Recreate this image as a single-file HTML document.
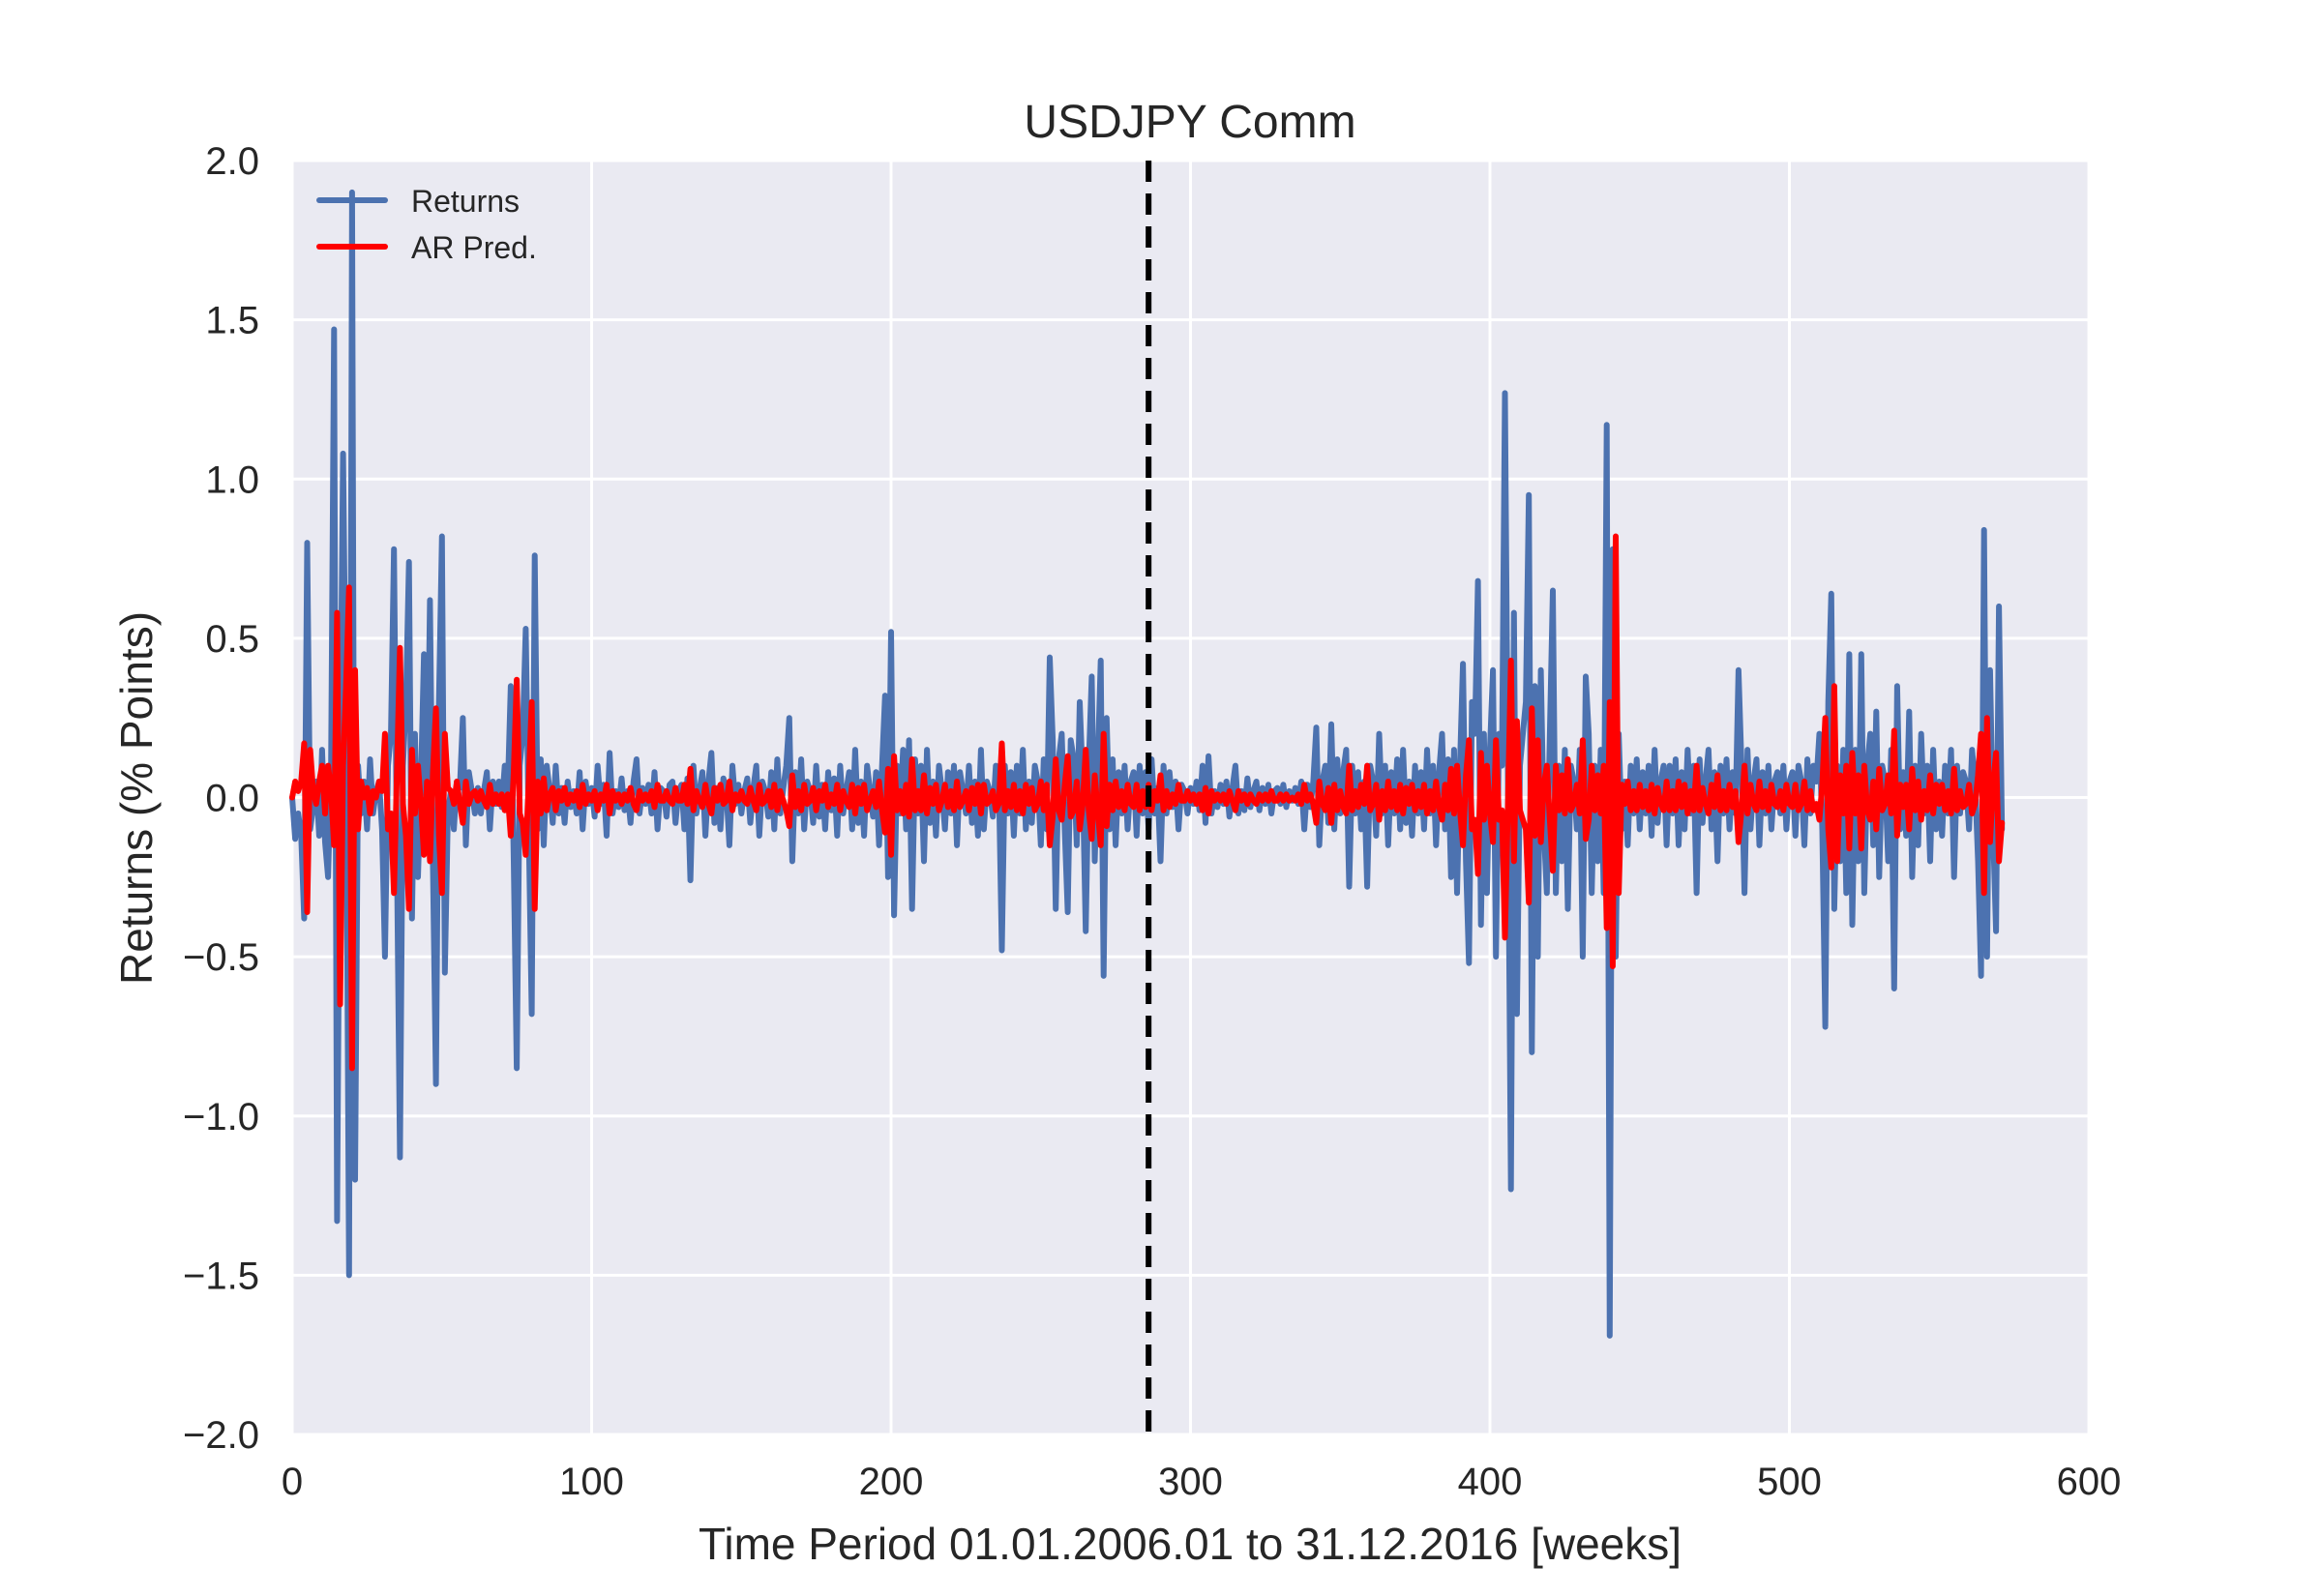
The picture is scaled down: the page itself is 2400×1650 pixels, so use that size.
<!DOCTYPE html>
<html><head><meta charset="utf-8"><style>
html,body{margin:0;padding:0;background:#fff;}
svg{display:block;font-family:"Liberation Sans",Arial,sans-serif;}
</style></head><body>
<svg id="chart" width="2400" height="1650" viewBox="0 0 2400 1650">
<rect x="0" y="0" width="2400" height="1650" fill="#fff"/>
<rect x="302" y="166" width="1857" height="1317" fill="#EAEAF2"/>
<g id="grid"></g>
<g id="series"></g>
<g id="ticks"></g>
<text x="1230" y="142" text-anchor="middle" font-size="48" fill="#262626">USDJPY Comm</text>
<text x="1230" y="1612" text-anchor="middle" font-size="46" fill="#262626">Time Period 01.01.2006.01 to 31.12.2016 [weeks]</text>
<text transform="translate(157,825) rotate(-90)" text-anchor="middle" font-size="46" fill="#262626">Returns (% Points)</text>
<g>
<line x1="330" y1="207" x2="398" y2="207" stroke="#4C72B0" stroke-width="6" stroke-linecap="round"/>
<text x="425" y="219" font-size="32" fill="#262626">Returns</text>
<line x1="330" y1="255" x2="398" y2="255" stroke="#FF0000" stroke-width="6" stroke-linecap="round"/>
<text x="425" y="267" font-size="32" fill="#262626">AR Pred.</text>
</g>
</svg>
<script>
const xTicks = [0,100,200,300,400,500,600];
const yTicks = [-2.0,-1.5,-1.0,-0.5,0.0,0.5,1.0,1.5,2.0];
const splitWeek = 286;
const returnsValues = [
0,-.13,-.05,-.12,-.38,.8,-.1,-.03,.05,-.12,.15,-.14,-.25,.1,1.47,-1.33,.1,1.08,.2,-1.5,
1.9,-1.2,.1,-.05,.05,-.1,.12,-.05,.02,.05,-.1,-.5,.1,.2,.78,-.2,-1.13,.1,.3,.74,
-.38,.2,-.25,.05,.45,-.1,.62,-.22,-.9,.3,.82,-.55,-.05,.02,-.1,.05,.03,.25,-.15,.08,
.02,-.05,.03,-.05,.02,.08,-.1,.05,-.02,.05,-.03,.1,.02,.35,-.2,-.85,.1,.2,.53,-.1,
-.68,.76,-.1,.12,-.15,.1,.02,-.08,.1,-.05,.03,-.08,.05,-.03,.02,-.05,.08,-.1,.05,-.02,
.03,-.06,.1,-.02,.04,-.12,.14,-.05,.02,-.03,.06,-.04,.02,-.08,.05,.12,-.05,.03,-.02,.04,
-.05,.08,-.1,.03,.02,-.06,.04,.05,-.08,.02,.04,-.1,.06,-.26,.1,-.05,.02,.08,-.12,.05,
.14,-.08,.03,-.1,.06,.02,-.15,.1,-.02,.04,-.05,.02,.06,-.08,.03,.1,-.12,.05,.02,-.06,
.08,-.1,.12,-.05,.03,.1,.25,-.2,.08,-.05,.12,-.1,.05,.02,-.08,.1,-.06,.04,-.1,.08,
-.04,.06,-.12,.1,-.05,.02,.08,-.1,.15,-.08,.05,-.12,.1,.02,-.06,.08,-.15,.1,.32,-.25,
.52,-.37,.1,-.05,.15,-.1,.18,-.35,.12,-.05,.1,-.2,.15,-.08,.05,-.12,.1,.02,-.1,.08,
-.05,.1,-.15,.08,.02,-.05,.1,-.08,.05,-.12,
.15,-.1,.05,.02,-.06,.1,.05,-.48,.1,-.05,
.08,-.12,.1,-.05,.15,-.1,.05,-.08,.1,.05,-.15,.12,-.1,.44,.18,-.35,.12,.2,-.1,-.36,
.18,.12,-.15,.3,.05,-.42,.1,.38,-.2,.1,.43,-.56,.25,-.1,.12,-.15,.08,-.05,.1,-.1,
.05,.08,-.12,.1,-.05,.08,-.1,.12,-.05,.03,-.2,.1,-.05,.08,-.03,.05,-.1,.04,.02,-.05,
.03,-.02,.05,-.04,.1,-.08,.13,-.05,.02,-.03,.04,-.02,.05,-.06,.03,.1,-.05,.02,-.04,.06,
-.03,.02,.05,-.04,.03,-.02,.04,-.05,.02,.03,-.02,.04,-.03,.02,-.01,.03,-.02,.05,-.1,.04,
-.03,.05,.22,-.15,.05,.1,-.08,.23,-.1,.12,-.05,.08,.15,-.28,.1,-.05,.08,-.1,.05,-.28,
.1,.05,-.12,.2,-.05,.1,-.15,.08,-.05,.12,-.1,.15,-.08,.05,-.12,.1,-.05,.08,-.1,.15,
-.05,.1,-.15,.08,.2,-.1,.12,-.25,.15,-.3,
.1,.42,-.2,-.52,.3,.2,.68,-.4,.2,-.3,
.15,.4,-.5,.2,.1,1.27,.05,-1.23,.58,-.68,
.1,.2,.3,.95,-.8,.35,-.5,.4,-.1,-.3,
.2,.65,-.3,.1,-.2,.15,-.35,.1,.05,-.1,.15,-.5,.38,.2,-.3,.1,-.2,.15,-.3,1.17,
-1.69,.78,-.5,.2,-.1,.05,-.15,.1,-.05,.12,-.1,.08,-.05,.1,-.12,.15,-.08,.05,.1,-.15,
.1,-.05,.12,-.15,.08,-.1,.15,-.05,.1,-.3,.12,-.08,.05,.15,-.1,.08,-.2,.1,-.05,.12,
-.1,.08,-.05,.4,.1,-.3,.15,-.1,.05,.12,-.15,.08,-.05,.1,-.1,.05,.08,-.05,.1,-.1,
.05,.08,-.12,.1,.05,-.15,.12,-.05,.1,.05,.2,-.1,-.72,.3,.64,-.35,.1,-.2,.15,-.3,
.45,-.4,.15,-.2,.45,-.3,.1,.2,-.15,.27,-.25,.1,.05,-.2,.15,-.6,.35,-.1,.08,-.12,
.27,-.25,.1,-.15,.2,-.05,.1,-.2,.15,-.1,.05,-.12,.1,-.05,.15,-.25,.1,-.05,.08,.05,
-.1,.15,.05,-.2,-.56,.84,-.5,.4,-.1,-.42,.6,-.1
];
const arPredValues = [
0,.05,.02,.05,.17,-.36,.15,.02,-.02,.05,.1,-.05,.1,.02,-.15,.58,-.65,.1,.35,.66,
-.85,.4,-.1,.05,0,.03,-.05,.02,0,.05,.02,.2,-.1,-.05,-.3,.08,.47,-.02,-.12,-.35,
.15,-.05,.1,-.02,-.18,.05,-.2,.08,.28,-.12,-.3,.2,.03,.02,-.02,.05,-.02,-.08,.05,-.02,
.01,.02,-.01,.02,-.01,-.03,.04,-.02,.01,-.02,.01,-.04,.01,-.12,.08,.37,-.05,-.08,-.18,.05,
.3,-.35,.05,-.05,.06,-.04,.01,.03,-.04,.02,-.01,.03,-.02,.01,-.01,.02,-.03,.04,-.02,.01,
-.01,.02,-.04,.01,-.01,.04,-.05,.02,-.01,.01,-.02,.01,-.01,.03,-.02,-.04,.02,-.01,.01,-.01,
.02,-.03,.04,-.01,-.01,.02,-.01,-.02,.03,-.01,-.01,.04,-.02,.09,-.04,.02,-.01,-.03,.04,-.02,
-.05,.03,-.01,.04,-.02,-.01,.05,-.04,.01,-.01,.02,-.01,-.02,.03,-.01,-.04,.04,-.02,-.01,.02,
-.03,.04,-.04,.02,-.01,-.04,-.09,.07,-.03,.02,-.04,.04,-.02,-.01,.03,-.04,.02,-.01,.04,-.03,
.01,-.02,.04,-.04,.02,-.01,-.03,.04,-.05,.03,-.02,.04,-.04,-.01,.02,-.03,.05,-.04,-.11,.09,
-.18,.13,-.04,.02,-.05,.04,-.06,.12,-.04,.02,-.04,.07,-.05,.03,-.02,.04,-.04,-.01,.04,-.03,
.02,-.04,.05,-.03,-.01,.02,-.04,.03,-.02,.04,-.05,.04,-.02,-.01,.02,-.04,-.02,.17,-.04,.02,
-.03,.04,-.04,.02,-.05,.04,-.02,.03,-.04,-.02,.05,-.04,.04,-.15,-.06,.12,-.04,-.07,.04,.13,
-.06,-.04,.05,-.1,-.02,.15,-.04,-.13,.07,-.04,-.15,.2,-.09,.04,-.04,.05,-.03,.02,-.04,.04,
-.02,-.03,.04,-.04,.02,-.03,.04,-.04,.02,-.01,.07,-.04,.02,-.03,.01,-.02,.04,-.01,-.01,.02,
-.01,.01,-.02,.01,-.04,.03,-.05,.02,-.01,.01,-.01,.01,-.02,.02,-.01,-.04,.02,-.01,.01,-.02,
.01,-.01,-.02,.01,-.01,.01,-.01,.02,-.01,-.01,.01,-.01,.01,-.01,0,-.01,.01,-.02,.04,-.01,
.01,-.02,-.08,.05,-.02,-.04,.03,-.08,.04,-.04,.02,-.03,-.05,.1,-.04,.02,-.03,.04,-.02,.1,
-.04,-.02,.04,-.07,.02,-.04,.05,-.03,.02,-.04,.04,-.05,.03,-.02,.04,-.04,.02,-.03,.04,-.05,
.02,-.04,.05,-.03,-.07,.04,-.04,.09,-.05,.1,
-.04,-.15,.07,.18,-.1,-.07,-.24,.14,-.07,.1,
-.05,-.14,.18,-.07,-.04,-.44,-.02,.43,-.2,.24,
-.04,-.07,-.1,-.33,.28,-.12,.18,-.14,.04,.1,
-.07,-.23,.1,-.04,.07,-.05,.12,-.04,-.02,.04,-.05,.18,-.13,-.07,.1,-.04,.07,-.05,.1,-.41,
.3,-.53,.82,-.3,.04,-.02,.05,-.04,.02,-.04,.04,-.03,.02,-.04,.04,-.05,.03,-.02,-.04,.05,
-.04,.02,-.04,.05,-.03,.04,-.05,.02,-.04,.1,-.04,.03,-.02,-.05,.04,-.03,.07,-.04,.02,-.04,
.04,-.03,.02,-.14,-.04,.1,-.05,.04,-.02,-.04,.05,-.03,.02,-.04,.04,-.02,-.03,.02,-.04,.04,
-.02,-.03,.04,-.04,-.02,.05,-.04,.02,-.04,-.02,-.07,.04,.25,-.1,-.22,.35,-.2,.07,-.05,.1,
-.16,.14,-.05,.07,-.16,.1,-.04,-.07,.05,-.1,.09,-.04,-.02,.07,-.05,.21,-.12,.04,-.03,.04,
-.1,.09,-.04,.05,-.07,.02,-.04,.07,-.05,.04,-.02,.04,-.04,.02,-.05,.09,-.04,.02,-.03,-.02,
.04,-.05,-.02,.07,.2,-.3,.25,-.14,.04,.14,-.2,-.08
];

const NS = "http://www.w3.org/2000/svg";
const L = 302, R = 2159, T = 166, B = 1483;
const xMin = 0, xMax = 600, yMin = -2, yMax = 2;
function xs(v){ return L + (v - xMin) / (xMax - xMin) * (R - L); }
function ys(v){ return B - (v - yMin) / (yMax - yMin) * (B - T); }
function mk(tag, attrs){ const e = document.createElementNS(NS, tag); for (const k in attrs) e.setAttribute(k, attrs[k]); return e; }

const grid = document.getElementById('grid');
const ticks = document.getElementById('ticks');
const series = document.getElementById('series');

xTicks.forEach(t => {
  const ln = mk('line', {x1: xs(t), x2: xs(t), y1: T, y2: B, stroke: '#fff', 'stroke-width': 3});
  
  
  grid.appendChild(ln);
  const tx = mk('text', {x: xs(t), y: 1545, 'text-anchor': 'middle', 'font-size': 40, fill: '#262626'});
  tx.textContent = String(t);
  
  
  ticks.appendChild(tx);
});
yTicks.forEach(t => {
  const ln = mk('line', {x1: L, x2: R, y1: ys(t), y2: ys(t), stroke: '#fff', 'stroke-width': 3});
  
  
  grid.appendChild(ln);
  const tx = mk('text', {x: 268, y: ys(t) + 14, 'text-anchor': 'end', 'font-size': 40, fill: '#262626'});
  tx.textContent = (t < 0 ? '\u2212' : '') + Math.abs(t).toFixed(1);
  
  
  ticks.appendChild(tx);
});

function pathFor(vals){ return vals.map((v,i) => (i ? 'L' : 'M') + xs(i).toFixed(1) + ' ' + ys(v).toFixed(1)).join(' '); }

const retPath = mk('path', {d: pathFor(returnsValues), fill: 'none', stroke: '#4C72B0', 'stroke-width': 6, 'stroke-linejoin': 'round', 'stroke-linecap': 'round'});


series.appendChild(retPath);

const arPath = mk('path', {d: pathFor(arPredValues), fill: 'none', stroke: '#FF0000', 'stroke-width': 6, 'stroke-linejoin': 'round', 'stroke-linecap': 'round'});


series.appendChild(arPath);

const split = mk('line', {x1: xs(splitWeek), x2: xs(splitWeek), y1: T, y2: B, stroke: '#000', 'stroke-width': 6, 'stroke-dasharray': '22 12'});


series.appendChild(split);
</script>
</body></html>
